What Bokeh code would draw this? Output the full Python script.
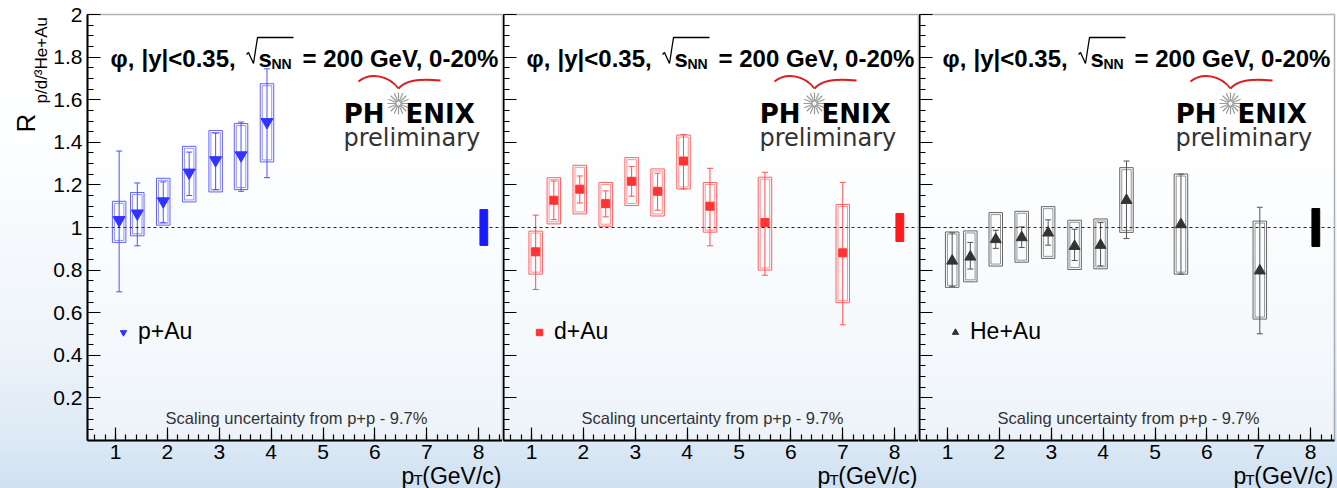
import math
from bokeh.plotting import figure
from bokeh.layouts import row
from bokeh.models import (ColumnDataSource, FixedTicker, Label, Whisker, TeeHead,
                          Legend, LegendItem, Range1d, BoxAnnotation)
from bokeh.embed import file_html
from bokeh.resources import INLINE

# ---------------- data ----------------
pt_p = [1.07, 1.42, 1.92, 2.42, 2.93, 3.42, 3.92]
R_p = [1.035, 1.066, 1.123, 1.258, 1.316, 1.339, 1.495]
stat_lo_p = [0.698, 0.914, 1.023, 1.150, 1.178, 1.170, 1.234]
stat_hi_p = [1.359, 1.209, 1.214, 1.354, 1.443, 1.495, 1.745]
sys_lo_p = [0.930, 0.961, 1.011, 1.120, 1.167, 1.178, 1.308]
sys_hi_p = [1.123, 1.164, 1.231, 1.381, 1.455, 1.488, 1.675]

pt_d = [1.08, 1.43, 1.93, 2.43, 2.93, 3.43, 3.93, 4.44, 5.50, 7.00]
R_d = [0.886, 1.128, 1.180, 1.112, 1.217, 1.170, 1.312, 1.100, 1.023, 0.881]
stat_lo_d = [0.709, 1.037, 1.115, 1.050, 1.147, 1.081, 1.181, 0.914, 0.776, 0.543]
stat_hi_d = [1.058, 1.218, 1.242, 1.172, 1.286, 1.255, 1.437, 1.278, 1.259, 1.212]
sys_lo_d = [0.781, 1.017, 1.064, 1.006, 1.103, 1.054, 1.181, 0.978, 0.800, 0.647]
sys_hi_d = [0.983, 1.234, 1.292, 1.211, 1.328, 1.275, 1.434, 1.211, 1.236, 1.108]

pt_h = [1.09, 1.44, 1.93, 2.43, 2.94, 3.45, 3.95, 4.45, 5.50, 7.02]
R_h = [0.843, 0.862, 0.944, 0.953, 0.975, 0.912, 0.917, 1.128, 1.014, 0.797]
stat_lo_h = [0.722, 0.805, 0.902, 0.906, 0.917, 0.845, 0.820, 0.948, 0.781, 0.501]
stat_hi_h = [0.975, 0.930, 0.987, 1.003, 1.036, 0.992, 1.023, 1.312, 1.251, 1.095]
sys_lo_h = [0.719, 0.745, 0.819, 0.837, 0.855, 0.803, 0.806, 0.977, 0.781, 0.570]
sys_hi_h = [0.979, 0.984, 1.070, 1.076, 1.098, 1.034, 1.040, 1.281, 1.251, 1.030]

systems = ["p+Au", "d+Au", "He+Au"]
scale_unc = [0.084, 0.066, 0.089]     # global scaling uncertainty boxes at R=1
scale_x = 8.1
ref_level = 1.0

y_ticks = [0.2, 0.4, 0.6, 0.8, 1, 1.2, 1.4, 1.6, 1.8, 2]
y_tick_labels = ["0.2", "0.4", "0.6", "0.8", "1", "1.2", "1.4", "1.6", "1.8", "2"]
x_ticks = [1, 2, 3, 4, 5, 6, 7, 8]
x_tick_labels = ["1", "2", "3", "4", "5", "6", "7", "8"]

title_phi = "\u03c6,"
title_a = "|y|<0.35,"
title_s = "s"
title_nn = "NN"
title_b = "= 200 GeV, 0-20%"
scaling_text = "Scaling uncertainty from p+p - 9.7%"
y_title_main = "R"
y_title_sub = "p/d/\u00b3He+Au"

# ---------------- layout constants ----------------
X0, X1 = 0.46, 8.46          # visible pT range of each panel
Y0, Y1 = 0.0, 2.0            # visible R range
FW, FH = 415, 426            # plot-area size in pixels
TOP, BOTTOM = 14, 48         # margins above / below the plot area
KX = FW / (X1 - X0)
KY = FH / (Y1 - Y0)
FONT = "Liberation Sans"
LOGO_FONT = "DejaVu Sans"


def fx(rx):
    return X0 + rx / KX


def fy(ry):
    return Y1 - ry / KY


def lab(p, rx, ry, text, size, bold=False, color="black", align="left",
        baseline="alphabetic", font=FONT, angle=0.0):
    p.add_layout(Label(x=fx(rx), y=fy(ry), text=text, text_font=font,
                       text_font_size=f"{size}px",
                       text_font_style="bold" if bold else "normal",
                       text_color=color, text_align=align,
                       text_baseline=baseline, angle=angle))


def make_panel(idx, pt, R, slo, shi, blo, bhi, marker, msize, mcolor, lcolor, scolor):
    first = idx == 0
    left_px = 87 if first else 1
    right_px = 3 if idx == 2 else 0
    p = figure(width=left_px + FW + right_px, height=TOP + FH + BOTTOM,
               x_range=Range1d(X0 - left_px / KX, X1 + right_px / KX),
               y_range=Range1d(Y0 - BOTTOM / KY, Y1 + TOP / KY),
               output_backend="svg", toolbar_location=None,
               min_border_left=0, min_border_right=0,
               min_border_top=0, min_border_bottom=0)
    p.background_fill_color = None
    p.border_fill_color = None
    p.outline_line_color = None
    p.xgrid.visible = False
    p.ygrid.visible = False

    # plot area (light fill + black frame)
    p.add_layout(BoxAnnotation(left=X0, right=X1, bottom=Y0, top=Y1,
                               fill_color="white", fill_alpha=0.45,
                               line_color="black", line_width=1.5,
                               level="underlay"))

    # axes fixed at the plot-area edges
    x_minor = [round(0.6 + 0.2 * i, 2) for i in range(40)]
    y_minor = [round(0.05 * i, 2) for i in range(41)]
    p.xaxis.fixed_location = Y0
    p.yaxis.fixed_location = X0
    p.xaxis.bounds = (X0, X1)
    p.yaxis.bounds = (Y0, Y1)
    p.xaxis.ticker = FixedTicker(ticks=x_ticks, minor_ticks=x_minor)
    p.yaxis.ticker = FixedTicker(ticks=y_ticks, minor_ticks=y_minor)
    p.xaxis.major_label_overrides = {v: t for v, t in zip(x_ticks, x_tick_labels)}
    if first:
        p.yaxis.major_label_overrides = {(int(v) if float(v).is_integer() else v): t
                                         for v, t in zip(y_ticks, y_tick_labels)}
    else:
        p.yaxis.major_label_overrides = {(int(v) if float(v).is_integer() else v): ""
                                         for v in y_ticks}
    for ax in (p.xaxis[0], p.yaxis[0]):
        ax.axis_line_width = 2
        ax.axis_line_color = "black"
        ax.major_tick_in = 13
        ax.major_tick_out = 0
        ax.minor_tick_in = 6
        ax.minor_tick_out = 0
        ax.major_tick_line_width = 1.2
        ax.minor_tick_line_width = 1.2
        ax.major_label_text_font = FONT
        ax.major_label_text_font_size = "21px"
        ax.major_label_text_color = "black"
    p.xaxis.major_label_standoff = 4
    p.yaxis.major_label_standoff = 5

    # reference line at R = 1
    p.line(x=[X0, X1], y=[ref_level, ref_level], line_color="#222222",
           line_width=1, line_dash="3 3")

    # data: systematic boxes, statistical bars, points
    hw = 0.13
    ix, iy = 2.0 / KX, 2.0 / KY
    src = ColumnDataSource(dict(
        x=pt, R=R, lo=slo, hi=shi,
        l=[v - hw for v in pt], r=[v + hw for v in pt], b=blo, t=bhi,
        il=[v - hw + ix for v in pt], ir=[v + hw - ix for v in pt],
        ib=[v + iy for v in blo], it=[v - iy for v in bhi]))
    p.quad(left="l", right="r", bottom="b", top="t", source=src,
           fill_color=None, line_color=lcolor, line_width=1, line_alpha=0.9)
    p.quad(left="il", right="ir", bottom="ib", top="it", source=src,
           fill_color=None, line_color=lcolor, line_width=1, line_alpha=0.6)
    p.add_layout(Whisker(source=src, base="x", lower="lo", upper="hi",
                         line_color=lcolor, line_width=1,
                         upper_head=TeeHead(size=6, line_color=lcolor, line_width=1),
                         lower_head=TeeHead(size=6, line_color=lcolor, line_width=1)))
    r = p.scatter(x="x", y="R", source=src, marker=marker, size=msize,
                  fill_color=mcolor, line_color=mcolor)

    # scaling uncertainty box
    su = scale_unc[idx]
    p.quad(left=[scale_x - 0.075], right=[scale_x + 0.075],
           bottom=[ref_level - su], top=[ref_level + su],
           fill_color=scolor, line_color=scolor)

    # legend
    leg = Legend(items=[LegendItem(label=systems[idx], renderers=[r])],
                 location=(left_px + 28, BOTTOM + 95), border_line_color=None,
                 background_fill_alpha=0, padding=0, margin=0, spacing=0,
                 glyph_width=16, glyph_height=26, label_height=26,
                 label_standoff=7, label_text_font=FONT,
                 label_text_font_size="23px", label_text_color="black")
    p.add_layout(leg)

    # title text
    lab(p, 23, 44, title_phi, 24, bold=True)
    lab(p, 54, 44, title_a, 24, bold=True)
    p.line(x=[fx(159), fx(161), fx(166), fx(170), fx(206)],
           y=[fy(40), fy(38), fy(49), fy(23), fy(23)],
           line_color="black", line_width=1.3)
    lab(p, 171, 44, title_s, 24, bold=True)
    lab(p, 184, 49, title_nn, 14, bold=True)
    lab(p, 215, 44, title_b, 24, bold=True)

    # PHENIX preliminary logo
    p.bezier(x0=[fx(271), fx(311)], y0=[fy(67), fy(74)],
             x1=[fx(311), fx(353)], y1=[fy(74), fy(66)],
             cx0=[fx(282), fx(318)], cy0=[fy(58), fy(66)],
             cx1=[fx(300), fx(330)], cy1=[fy(60), fy(64)],
             line_color="#e31a1a", line_width=2)
    lab(p, 297, 99, "PH", 26, bold=True, align="right", font=LOGO_FONT)
    lab(p, 318, 99, "ENIX", 26, bold=True, font=LOGO_FONT)
    for ang in (0.0, math.pi / 8):
        p.scatter(x=[fx(311)], y=[fy(89)], marker="asterisk", size=22, angle=ang,
                  line_color="#9a9a9a", line_width=1.2)
    p.scatter(x=[fx(311)], y=[fy(89)], marker="circle", size=5,
              fill_color="white", line_color="#9a9a9a", line_width=1)
    lab(p, 256, 123, "preliminary", 24, color="#333333", font=LOGO_FONT)

    # scaling note
    lab(p, 209, 403, scaling_text, 16.5, color="#333333", align="center")

    # x-axis title  p_T (GeV/c)
    lab(p, 314, FH + 35, "p", 23)
    lab(p, 326, FH + 39, "T", 15)
    lab(p, 414, FH + 35, "(GeV/c)", 23, align="right")

    # y-axis title  R_{p/d/3He+Au}
    if first:
        lab(p, -62, 118, y_title_main, 26, angle=math.pi / 2)
        lab(p, -46, 89, y_title_sub, 17, angle=math.pi / 2)
    return p


p1 = make_panel(0, pt_p, R_p, stat_lo_p, stat_hi_p, sys_lo_p, sys_hi_p,
                "inverted_triangle", 12, "#3333ff", "#5050ff", "#1a1aff")
p2 = make_panel(1, pt_d, R_d, stat_lo_d, stat_hi_d, sys_lo_d, sys_hi_d,
                "square", 8, "#ff3333", "#ff5050", "#ff1a1a")
p3 = make_panel(2, pt_h, R_h, stat_lo_h, stat_hi_h, sys_lo_h, sys_hi_h,
                "triangle", 11, "#333333", "#555555", "#000000")

layout = row(p1, p2, p3, spacing=0,
             styles={"background": "linear-gradient(180deg, #ffffff 0%, #fdfeff 30%, "
                                   "#eef4fa 70%, #dde9f5 90%, #cfe0f1 100%)"})

open("out.html", "w").write(file_html(layout, INLINE))
